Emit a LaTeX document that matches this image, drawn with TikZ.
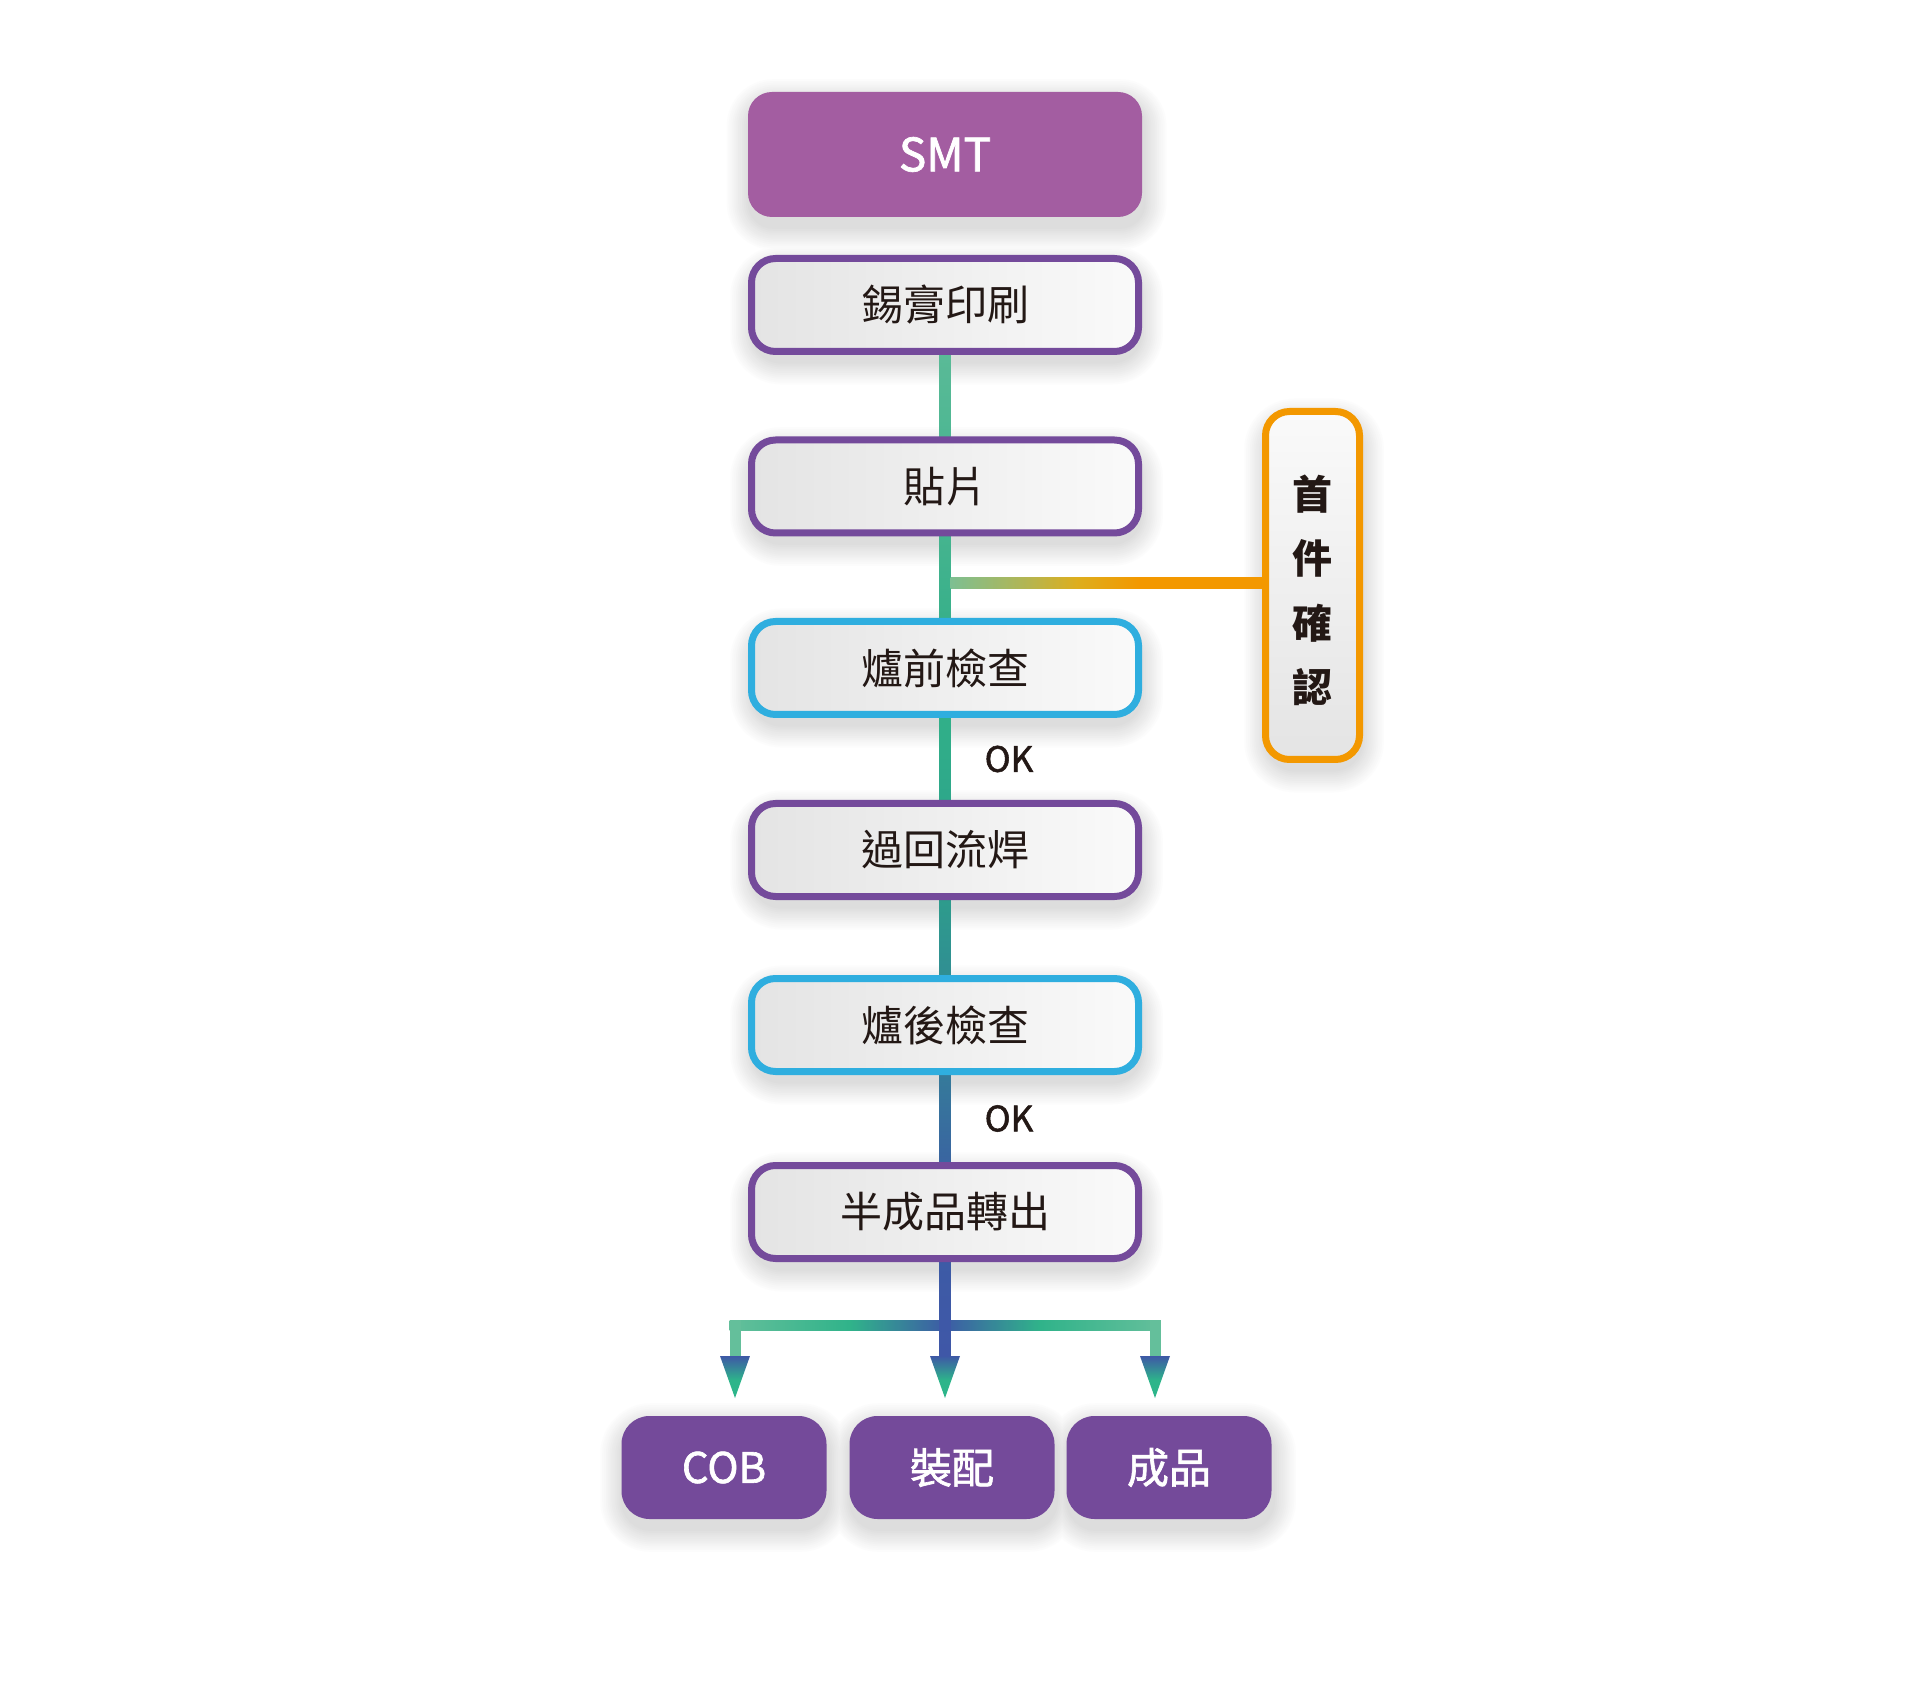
\documentclass[tikz,border=0pt]{standalone}
\usepackage{fontspec}
\setmainfont{Noto Sans CJK TC}
\newfontfamily\medfont[FakeBold=1.5]{Noto Sans CJK TC}
\usetikzlibrary{positioning,calc,backgrounds}

\definecolor{smtfill}{HTML}{A35DA1}
\definecolor{stepline}{HTML}{744A9B}
\definecolor{checkline}{HTML}{2FAEDF}
\definecolor{firstline}{HTML}{F39800}
\definecolor{endfill}{HTML}{744A9A}
\definecolor{ink}{HTML}{231815}
\definecolor{boxL}{HTML}{E4E4E4}
\definecolor{boxR}{HTML}{FAFAFA}
\definecolor{segA}{HTML}{5ABA97}
\definecolor{segB}{HTML}{4EB793}
\definecolor{segC}{HTML}{45B48F}
\definecolor{segD}{HTML}{38B08A}
\definecolor{segE}{HTML}{31B089}
\definecolor{segF}{HTML}{2EA78A}
\definecolor{segG}{HTML}{2E9C8C}
\definecolor{segH}{HTML}{308E93}
\definecolor{segI}{HTML}{357B9A}
\definecolor{segJ}{HTML}{3A64A1}
\definecolor{stemA}{HTML}{3D5BA6}
\definecolor{stemB}{HTML}{3F57A7}
\definecolor{barend}{HTML}{64BF9B}
\definecolor{barmid}{HTML}{30B38A}
\definecolor{tipA}{HTML}{3E58A6}
\definecolor{tipB}{HTML}{2DB58A}
\definecolor{firstA}{HTML}{7DBF92}
\definecolor{firstB}{HTML}{B3B552}
\definecolor{firstC}{HTML}{DDAE1E}

\pgfdeclarehorizontalshading{forkbar}{100bp}{color(0bp)=(barend); color(25bp)=(barend); color(39bp)=(barmid); color(50bp)=(stemA); color(61bp)=(barmid); color(75bp)=(barend); color(100bp)=(barend)}
\pgfdeclarehorizontalshading{firstbar}{100bp}{color(0bp)=(firstA); color(25bp)=(firstA); color(37bp)=(firstB); color(45bp)=(firstC); color(55bp)=(firstline); color(100bp)=(firstline)}
\pgfdeclareverticalshading{tipshade}{100bp}{color(0bp)=(tipB); color(25bp)=(tipB); color(46bp)=(tipB); color(75bp)=(tipA); color(100bp)=(tipA)}

\begin{document}
\begin{tikzpicture}[
    every node/.style={outer sep=0pt},
    smtbox/.style={fill=smtfill, rounded corners=12pt, minimum width=197pt, minimum height=62.5pt, text=white, font=\medfont\fontsize{23}{27}\selectfont},
    stepbox/.style={draw=stepline, line width=3.5pt, left color=boxL, right color=boxR, rounded corners=12pt, minimum width=193.5pt, minimum height=46.5pt, text=ink, font=\fontsize{21}{25}\selectfont},
    checkbox/.style={stepbox, draw=checkline},
    firstbox/.style={draw=firstline, line width=3.5pt, top color=boxR, bottom color=boxL, rounded corners=12pt, minimum width=47pt, minimum height=174pt},
    firsttext/.style={text=ink, align=center, font=\bfseries\fontsize{20}{32.2}\selectfont},
    endbox/.style={fill=endfill, rounded corners=14pt, minimum width=102.5pt, minimum height=51.5pt, text=white, font=\medfont\fontsize{21}{25}\selectfont},
    oklabel/.style={text=ink, font=\medfont\fontsize{17.5}{20}\selectfont},
    tip/.style={shading=tipshade},
]
    \useasboundingbox (0,0) rectangle (956.5pt,-847.5pt);

    % main flow
    \node (SMT) [smtbox] at (472.5pt,-77.25pt) {SMT};
    \node (S1) [stepbox, below=20.75pt of SMT] {錫膏印刷};
    \node (S2) [stepbox, below=44.25pt of S1] {貼片};
    \node (S3) [checkbox, below=44.25pt of S2] {爐前檢查};
    \node (S4) [stepbox, below=44.5pt of S3] {過回流焊};
    \node (S5) [checkbox, below=41pt of S4] {爐後檢查};
    \node (S6) [stepbox, below=47pt of S5] {半成品轉出};

    % side check
    \node (C) [firstbox, right=63.5pt of S2, yshift=-49.5pt] {};
    \node (Ct) [firsttext] at ([yshift=-2.5pt]C.center) {首\\件\\確\\認};

    % outputs
    \node (B2) [endbox, below=78.75pt of S6, xshift=3.5pt] {裝配};
    \node (B1) [endbox, left=11.5pt of B2] {COB};
    \node (B3) [endbox, right=6pt of B2] {成品};

    \node (K1) [oklabel, right=16.5pt] at ($(S3.south)!0.5!(S4.north)$) {OK};
    \node (K2) [oklabel, right=16.5pt] at ($(S5.south)!0.5!(S6.north)$) {OK};

    \coordinate (F1) at ([yshift=-25.25pt]S2.south);
    \coordinate (J) at ([yshift=-33.25pt]S6.south);
    \coordinate (J1) at ([xshift=-105pt]J);
    \coordinate (J3) at ([xshift=105pt]J);

    \begin{scope}[on background layer]
        \fill[white] (0,0) rectangle (956.5pt,-847.5pt);
        % soft shadows, outer rings first
        \foreach \k in {12,...,1} {
            \foreach \n/\r in {SMT/12, S1/14, S2/14, S3/14, S4/14, S5/14, S6/14, C/14, B1/14, B2/14, B3/14} {
                \pgfmathsetmacro{\g}{1.1*(13-\k)}
                \pgfmathsetlengthmacro{\ex}{\k*0.95pt}
                \pgfmathsetlengthmacro{\rr}{\r*1pt+\k*0.95pt}
                \fill[black!\g, rounded corners=\rr] ([shift={(-\ex+0.8pt,-\ex-5pt)}]\n.south west) rectangle ([shift={(\ex+0.8pt,\ex-5pt)}]\n.north east);
            }
        }
        \shade[top color=segA, bottom color=segB] ([xshift=-2.75pt]S1.south) rectangle ([xshift=2.75pt]S2.north);
        \shade[top color=segC, bottom color=segD] ([xshift=-2.75pt]S2.south) rectangle ([xshift=2.75pt]S3.north);
        \shade[top color=segE, bottom color=segF] ([xshift=-2.75pt]S3.south) rectangle ([xshift=2.75pt]S4.north);
        \shade[top color=segG, bottom color=segH] ([xshift=-2.75pt]S4.south) rectangle ([xshift=2.75pt]S5.north);
        \shade[top color=segI, bottom color=segJ] ([xshift=-2.75pt]S5.south) rectangle ([xshift=2.75pt]S6.north);
        \shade[shading=firstbar] ([xshift=2.75pt, yshift=2.75pt]F1) rectangle ($(F1 -| C.west)+(0,-2.75pt)$);

        \shade[shading=forkbar] ([xshift=-2.75pt, yshift=2.5pt]J1) rectangle ([xshift=2.75pt, yshift=-2.5pt]J3);
        \shade[top color=stemA, bottom color=stemB] ([xshift=-2.75pt]S6.south) rectangle ([xshift=2.75pt, yshift=-15.5pt]J);
        \fill[barend] ([xshift=-2.75pt, yshift=2.5pt]J1) rectangle ([xshift=2.75pt, yshift=-15.5pt]J1);
        \fill[barend] ([xshift=-2.75pt, yshift=2.5pt]J3) rectangle ([xshift=2.75pt, yshift=-15.5pt]J3);
    \end{scope}

    \shade[tip] ([xshift=-7.5pt, yshift=-15.5pt]J1) -- ([xshift=7.5pt, yshift=-15.5pt]J1) -- ([yshift=-36.5pt]J1) -- cycle;
    \shade[tip] ([xshift=-7.5pt, yshift=-15.5pt]J) -- ([xshift=7.5pt, yshift=-15.5pt]J) -- ([yshift=-36.5pt]J) -- cycle;
    \shade[tip] ([xshift=-7.5pt, yshift=-15.5pt]J3) -- ([xshift=7.5pt, yshift=-15.5pt]J3) -- ([yshift=-36.5pt]J3) -- cycle;
\end{tikzpicture}
\end{document}
